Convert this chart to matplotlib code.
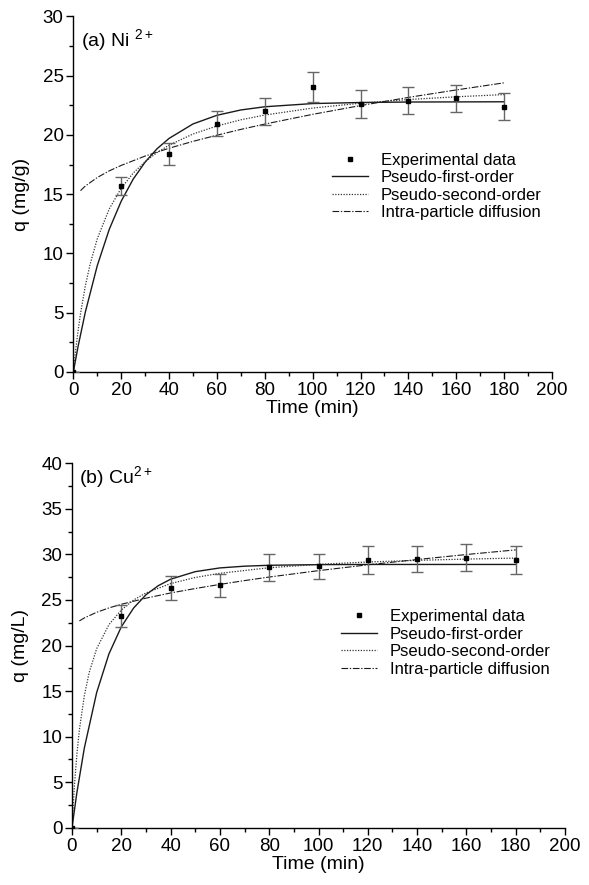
import matplotlib
matplotlib.use("Agg")
import matplotlib.pyplot as plt
from matplotlib.ticker import MultipleLocator
from matplotlib.lines import Line2D

plt.rcParams['font.family'] = ['Liberation Sans', 'DejaVu Sans']
plt.rcParams['mathtext.fontset'] = 'custom'
plt.rcParams['mathtext.rm'] = 'Liberation Sans'
plt.rcParams['mathtext.it'] = 'Liberation Sans:italic'
plt.rcParams['mathtext.bf'] = 'Liberation Sans:bold'

# ---------------- data ----------------
time_exp = [0, 20, 40, 60, 80, 100, 120, 140, 160, 180]

ni_q = [0, 15.7, 18.4, 20.95, 22.0, 24.05, 22.6, 22.9, 23.1, 22.4]
ni_err = [0, 0.77, 0.95, 1.04, 1.12, 1.24, 1.16, 1.12, 1.15, 1.12]

cu_q = [0, 23.2, 26.3, 26.6, 28.6, 28.7, 29.4, 29.5, 29.65, 29.4]
cu_err = [0, 1.2, 1.3, 1.3, 1.5, 1.4, 1.5, 1.45, 1.5, 1.5]

# fitted curves
ni_pfo_t = [0, 2, 5, 10, 15, 20, 25, 30, 35, 40, 50, 60, 70, 80, 100, 120, 140, 160, 180]
ni_pfo_q = [0, 2.17, 5.04, 8.97, 12.03, 14.41, 16.27, 17.71, 18.84, 19.71, 20.93, 21.66,
            22.11, 22.38, 22.65, 22.74, 22.78, 22.79, 22.80]
ni_pso_t = [0, 1, 2, 3, 5, 7, 10, 15, 20, 25, 30, 35, 40, 50, 60, 70, 80, 100, 120, 140, 160, 180]
ni_pso_q = [0, 1.89, 3.51, 4.92, 7.25, 9.09, 11.24, 13.76, 15.50, 16.78, 17.75, 18.52, 19.14,
            20.08, 20.76, 21.28, 21.68, 22.27, 22.68, 22.99, 23.22, 23.41]
ni_ipd_t = [3, 5, 10, 15, 20, 30, 40, 50, 60, 70, 80, 100, 120, 140, 160, 180]
ni_ipd_q = [15.30, 15.69, 16.41, 16.97, 17.43, 18.22, 18.88, 19.46, 19.98, 20.47, 20.92,
            21.74, 22.48, 23.17, 23.80, 24.40]

cu_pfo_t = [0, 2, 5, 10, 15, 20, 25, 30, 35, 40, 50, 60, 70, 80, 100, 120, 140, 160, 180]
cu_pfo_q = [0, 3.88, 8.74, 14.83, 19.09, 22.05, 24.12, 25.57, 26.57, 27.28, 28.11, 28.52,
            28.71, 28.81, 28.88, 28.90, 28.90, 28.90, 28.90]
cu_pso_t = [0, 1, 2, 3, 5, 7, 10, 15, 20, 25, 30, 40, 50, 60, 80, 100, 120, 140, 160, 180]
cu_pso_q = [0, 4.68, 8.11, 10.74, 14.49, 17.06, 19.65, 22.30, 23.90, 25.00, 25.77, 26.80,
            27.47, 27.93, 28.54, 28.91, 29.17, 29.35, 29.49, 29.60]
cu_ipd_t = [3, 5, 10, 15, 20, 30, 40, 50, 60, 70, 80, 100, 120, 140, 160, 180]
cu_ipd_q = [22.70, 23.03, 23.65, 24.13, 24.53, 25.20, 25.77, 26.26, 26.71, 27.13, 27.52,
            28.22, 28.86, 29.44, 29.99, 30.50]

labels = ["Experimental data", "Pseudo-first-order", "Pseudo-second-order",
          "Intra-particle diffusion"]

# ---------------- figure ----------------
fig = plt.figure(figsize=(5.89, 8.85), dpi=100)
ax1 = fig.add_axes([0.1245, 0.5797, 0.8127, 0.4017])
ax2 = fig.add_axes([0.1222, 0.0646, 0.8371, 0.4119])

line_col = '#1a1a1a'
err_col = '#666666'


def panel(ax, q, err, pfo_t, pfo_q, pso_t, pso_q, ipd_t, ipd_q, ymax, ylabel, title,
          title_y, leg_anchor):
    ax.errorbar(time_exp, q, yerr=err, fmt='s', color='black', ms=3.4,
                ecolor=err_col, elinewidth=1.0, capsize=4, capthick=1.0, zorder=5)
    l1, = ax.plot(pfo_t, pfo_q, '-', color=line_col, lw=1.0)
    l2, = ax.plot(pso_t, pso_q, color='#333333', lw=0.9, ls=(0, (1, 1.2)))
    l3, = ax.plot(ipd_t, ipd_q, color=line_col, lw=0.8, ls=(0, (6, 1.5, 1.2, 1.5)))
    mk = Line2D([], [], marker='s', ls='none', color='black', ms=3.4)
    ax.set_xlim(0, 200)
    ax.set_ylim(0, ymax)
    ax.xaxis.set_major_locator(MultipleLocator(20))
    ax.xaxis.set_minor_locator(MultipleLocator(10))
    ax.yaxis.set_major_locator(MultipleLocator(5))
    ax.yaxis.set_minor_locator(MultipleLocator(2.5))
    for s in ['top', 'right']:
        ax.spines[s].set_visible(False)
    for s in ['left', 'bottom']:
        ax.spines[s].set_linewidth(1.0)
    ax.tick_params(which='major', direction='out', length=5, width=1.0, labelsize=13.5,
                   pad=2)
    ax.tick_params(which='minor', direction='out', length=3, width=1.0)
    ax.set_xlabel("Time (min)", fontsize=14, labelpad=1)
    ax.set_ylabel(ylabel, fontsize=14, labelpad=9)
    ax.text(0.015, title_y, title, transform=ax.transAxes, fontsize=14, va='center',
            ha='left')
    ax.legend(handles=[mk, l1, l2, l3], labels=labels, loc='upper left',
              bbox_to_anchor=leg_anchor, frameon=False, fontsize=12,
              handlelength=2.16, handletextpad=0.78, labelspacing=0.15,
              borderpad=0, borderaxespad=0)


panel(ax1, ni_q, ni_err, ni_pfo_t, ni_pfo_q, ni_pso_t, ni_pso_q, ni_ipd_t, ni_ipd_q,
      30, "q (mg/g)", r"(a) Ni $^{2+}$", 0.934, (0.540, 0.617))
panel(ax2, cu_q, cu_err, cu_pfo_t, cu_pfo_q, cu_pso_t, cu_pso_q, cu_ipd_t, cu_ipd_q,
      40, "q (mg/L)", r"(b) Cu$^{2+}$", 0.962, (0.545, 0.600))

fig.savefig("out.png", dpi=100)
